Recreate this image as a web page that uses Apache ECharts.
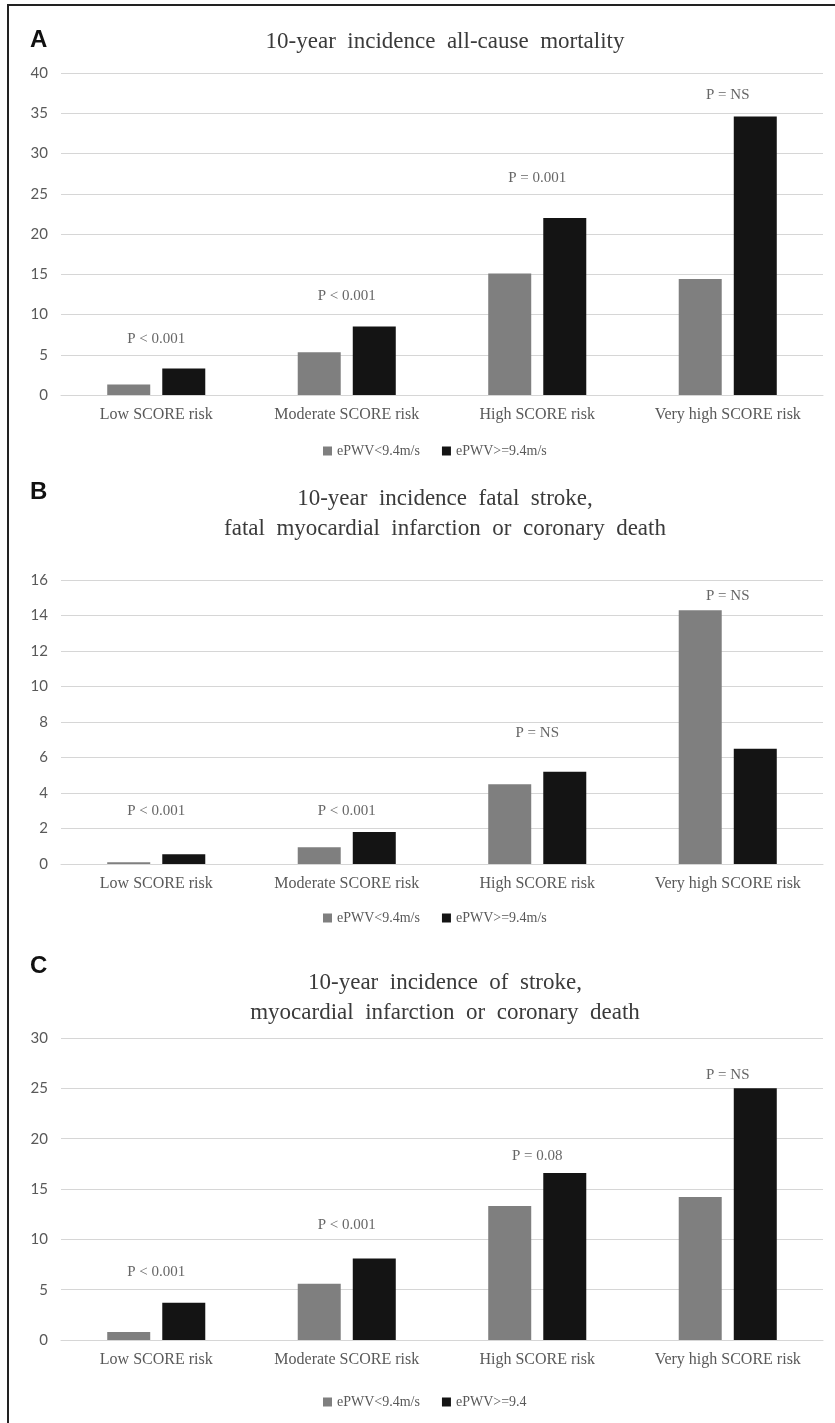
<!DOCTYPE html>
<html><head><meta charset="utf-8">
<script src="https://cdn.jsdelivr.net/npm/echarts@6/dist/echarts.min.js"></script>
<style>html,body{margin:0;padding:0;background:#fff}#c{width:835px;height:1423px}</style>
</head><body><div id="c"></div>
<script>
var categories = ['Low SCORE risk','Moderate SCORE risk','High SCORE risk','Very high SCORE risk'];
var seriesNamesAB = ['ePWV<9.4m/s','ePWV>=9.4m/s'];
var seriesNamesC = ['ePWV<9.4m/s','ePWV>=9.4'];
var titleA = '10-year  incidence  all-cause  mortality';
var titleB = '10-year  incidence  fatal  stroke,\nfatal  myocardial  infarction  or  coronary  death';
var titleC = '10-year  incidence  of  stroke,\nmyocardial  infarction  or  coronary  death';
var lowA = [1.3, 5.3, 15.1, 14.4];
var highA = [3.3, 8.5, 22.0, 34.6];
var lowB = [0.1, 0.95, 4.5, 14.3];
var highB = [0.55, 1.8, 5.2, 6.5];
var lowC = [0.8, 5.6, 13.3, 14.2];
var highC = [3.7, 8.1, 16.6, 25.0];
var pTextA = ['P < 0.001','P < 0.001','P = 0.001','P = NS'];
var pYA = [7.0, 12.3, 27.0, 37.3];
var pTextB = ['P < 0.001','P < 0.001','P = NS','P = NS'];
var pYB = [3.0, 3.0, 7.4, 15.1];
var pTextC = ['P < 0.001','P < 0.001','P = 0.08','P = NS'];
var pYC = [6.7, 11.4, 18.3, 26.3];
var yMaxA = 40, yStepA = 5, yMaxB = 16, yStepB = 2, yMaxC = 30, yStepC = 5;

var SERIF = '"Liberation Serif", "Times New Roman", serif';
var SANS = 'Lato, "Open Sans", sans-serif';
var GRAY = '#7f7f7f', BLACK = '#141414';
var grids = [
  {left: 61, right: 12, top: 73, height: 322},
  {left: 61, right: 12, top: 580, height: 284},
  {left: 61, right: 12, top: 1038, height: 302}
];
var yCfg = [[yMaxA, yStepA],[yMaxB, yStepB],[yMaxC, yStepC]];
function xAxis(i){return {type:'category', gridIndex:i, data:categories,
  axisLine:{show:true, lineStyle:{color:'#d6d6d6'}}, axisTick:{show:false},
  axisLabel:{fontFamily:SERIF, fontSize:16, color:'#595959', margin:12}};}
function yAxis(i){return {type:'value', gridIndex:i, min:0, max:yCfg[i][0], interval:yCfg[i][1],
  axisLine:{show:false}, axisTick:{show:false},
  axisLabel:{fontFamily:SANS, fontSize:15, color:'#595959', margin:13},
  splitLine:{lineStyle:{color:'#d6d6d6', width:1}}};}
function bars(i, names, lo, hi){
  return [
    {name:names[0], type:'bar', xAxisIndex:i, yAxisIndex:i, data:lo, barWidth:43, barGap:'28%', itemStyle:{color:GRAY}},
    {name:names[1], type:'bar', xAxisIndex:i, yAxisIndex:i, data:hi, barWidth:43, barGap:'28%', itemStyle:{color:BLACK}}
  ];
}
function plabels(i, txt, ys){
  return {type:'scatter', xAxisIndex:i, yAxisIndex:i, symbolSize:2, itemStyle:{color:'rgba(0,0,0,0)'}, silent:true,
    data: ys.map(function(v,k){return {value:[k, v], name:txt[k]};}),
    label:{show:true, position:'inside', formatter:function(p){return p.name;}, fontFamily:SERIF, fontSize:15, color:'#404040'}};
}
function legend(top, names){return {top:top, left:318, itemWidth:9, itemHeight:9, itemGap:22, icon:'rect', data:names,
  textStyle:{fontFamily:SERIF, fontSize:14, color:'#595959'}, selectedMode:false};}
var ch = echarts.init(document.getElementById('c'), null, {renderer:'canvas'});
ch.setOption({
  animation:false,
  title:[
    {text:titleA, left:440, top:25, textAlign:'center', textStyle:{fontFamily:SERIF, fontSize:23, fontWeight:'normal', color:'#3a3a3a'}},
    {text:titleB, left:440, top:479, textAlign:'center', textStyle:{fontFamily:SERIF, fontSize:23, fontWeight:'normal', color:'#3a3a3a', lineHeight:30}},
    {text:titleC, left:440, top:963, textAlign:'center', textStyle:{fontFamily:SERIF, fontSize:23, fontWeight:'normal', color:'#3a3a3a', lineHeight:30}}
  ],
  legend:[legend(439, seriesNamesAB), legend(906, seriesNamesAB), legend(1390, seriesNamesC)],
  grid:grids,
  xAxis:[xAxis(0),xAxis(1),xAxis(2)],
  yAxis:[yAxis(0),yAxis(1),yAxis(2)],
  series:[].concat(bars(0,seriesNamesAB,lowA,highA), bars(1,seriesNamesAB,lowB,highB), bars(2,seriesNamesC,lowC,highC),
    [plabels(0,pTextA,pYA), plabels(1,pTextB,pYB), plabels(2,pTextC,pYC)]),
  graphic:[
    {type:'rect', shape:{x:7, y:4, width:2, height:1419}, style:{fill:'#222'}},
    {type:'rect', shape:{x:7, y:4, width:828, height:2}, style:{fill:'#222'}},
    {type:'text', left:30, top:28, style:{text:'A', font:'bold 24px "Liberation Sans", Arial, sans-serif', fill:'#111'}},
    {type:'text', left:30, top:480, style:{text:'B', font:'bold 24px "Liberation Sans", Arial, sans-serif', fill:'#111'}},
    {type:'text', left:30, top:954, style:{text:'C', font:'bold 24px "Liberation Sans", Arial, sans-serif', fill:'#111'}}
  ]
});
</script></body></html>
